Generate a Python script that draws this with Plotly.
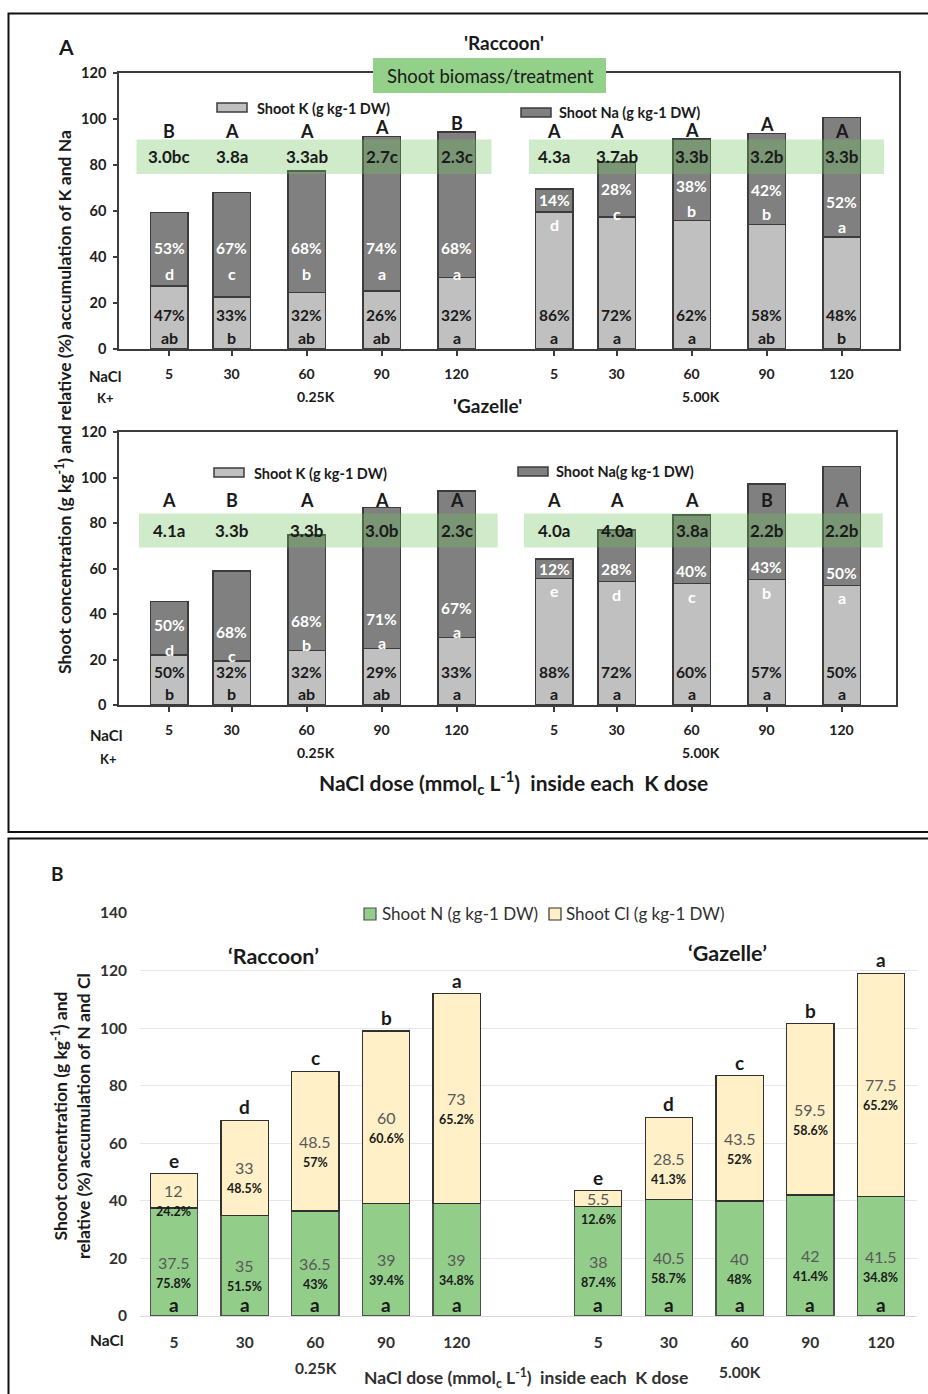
import plotly.graph_objects as go

W, H = 928, 1394
FONT = "Lato"
TXT = "#1a1a1a"
EDGE = "#3c3c3c"
K_COL = "#c0c0c0"
NA_COL = "#808080"
N_COL = "#93cd8a"
CL_COL = "#fff0c8"
BAND = "rgba(110,195,95,0.33)"
BOX = "#93d089"

# ---------------- data ----------------
nacl = [5, 30, 60, 90, 120]
nacl_labels = ["5", "30", "60", "90", "120"]
k_doses = ["0.25K", "5.00K"]

# Panel A - 'Raccoon' (first 5 = 0.25K, last 5 = 5.00K)
rac_k = [27.5, 22.7, 24.5, 25.2, 31.0, 59.6, 57.5, 55.8, 54.2, 48.7]
rac_na = [31.8, 45.3, 52.9, 67.3, 63.3, 10.0, 23.8, 35.4, 39.6, 52.0]
rac_k_pct = ["47%", "33%", "32%", "26%", "32%", "86%", "72%", "62%", "58%", "48%"]
rac_k_let = ["ab", "b", "ab", "ab", "a", "a", "a", "a", "ab", "b"]
rac_na_pct = ["53%", "67%", "68%", "74%", "68%", "14%", "28%", "38%", "42%", "52%"]
rac_na_let = ["d", "c", "b", "a", "a", "d", "c", "b", "b", "a"]
rac_top_let = ["B", "A", "A", "A", "B", "A", "A", "A", "A", "A"]
rac_biomass = ["3.0bc", "3.8a", "3.3ab", "2.7c", "2.3c", "4.3a", "3.7ab", "3.3b", "3.2b", "3.3b"]

# Panel A - 'Gazelle'
gaz_k = [22.0, 19.3, 23.9, 24.9, 29.6, 55.7, 54.2, 53.3, 55.1, 52.6]
gaz_na = [23.6, 39.5, 50.8, 62.0, 64.4, 8.5, 22.7, 30.2, 42.0, 52.2]
gaz_k_pct = ["50%", "32%", "32%", "29%", "33%", "88%", "72%", "60%", "57%", "50%"]
gaz_k_let = ["b", "b", "ab", "ab", "a", "a", "a", "a", "a", "a"]
gaz_na_pct = ["50%", "68%", "68%", "71%", "67%", "12%", "28%", "40%", "43%", "50%"]
gaz_na_let = ["d", "c", "b", "a", "a", "e", "d", "c", "b", "a"]
gaz_top_let = ["A", "B", "A", "A", "A", "A", "A", "A", "B", "A"]
gaz_biomass = ["4.1a", "3.3b", "3.3b", "3.0b", "2.3c", "4.0a", "4.0a", "3.8a", "2.2b", "2.2b"]

# Panel B - first 5 'Raccoon' (0.25K), last 5 'Gazelle' (5.00K)
b_n = [37.5, 35, 36.5, 39, 39, 38, 40.5, 40, 42, 41.5]
b_cl = [12, 33, 48.5, 60, 73, 5.5, 28.5, 43.5, 59.5, 77.5]
b_n_pct = ["75.8%", "51.5%", "43%", "39.4%", "34.8%", "87.4%", "58.7%", "48%", "41.4%", "34.8%"]
b_cl_pct = ["24.2%", "48.5%", "57%", "60.6%", "65.2%", "12.6%", "41.3%", "52%", "58.6%", "65.2%"]
b_n_let = ["a"] * 10
b_top_let = ["e", "d", "c", "b", "a", "e", "d", "c", "b", "a"]

# ---------------- helpers ----------------
def fx(x):
    return x / W


def fy(y):
    return 1 - y / H


GROUP_OFFSET = 154  # horizontal offset of the 5.00K group on the NaCl scale
xa = nacl + [d + GROUP_OFFSET for d in nacl]
xb = [i + (1 if i >= 5 else 0) for i in range(10)]

fig = go.Figure()
ann_list = []
shapes = []


def font(size, bold=False, color=TXT):
    return dict(family=FONT, size=size, color=color, weight="bold" if bold else "normal")


def pann(text, x, y, size, bold=False, color=TXT, xanchor="center", yanchor="middle", angle=0):
    ann_list.append(dict(text=text, x=fx(x), y=fy(y), xref="paper", yref="paper",
                         showarrow=False, font=font(size, bold, color),
                         xanchor=xanchor, yanchor=yanchor, textangle=angle))


def dann(text, x, y, s, size, bold=True, color=TXT, yanchor="middle", yshift=0):
    ann_list.append(dict(text=text, x=x, y=y, xref="x" + s, yref="y" + s,
                         showarrow=False, font=font(size, bold, color),
                         yanchor=yanchor, yshift=yshift))


def panel_a(s, k, na, k_pct, k_let, na_pct, na_let, top_let, bio,
            na_pct_y, na_let_y, top_y, k_pct_y, k_let_y, band, bio_y):
    fig.add_trace(go.Bar(x=xa, y=k, xaxis="x" + s, yaxis="y" + s, width=15,
                         marker=dict(color=K_COL, line=dict(color=EDGE, width=1.5)),
                         showlegend=False, name="Shoot K"))
    fig.add_trace(go.Bar(x=xa, y=na, xaxis="x" + s, yaxis="y" + s, width=15,
                         marker=dict(color=NA_COL, line=dict(color=EDGE, width=1.5)),
                         showlegend=False, name="Shoot Na"))
    for i in range(10):
        x = xa[i]
        dann(k_pct[i], x, k_pct_y, s, 15.5, True, TXT)
        dann(k_let[i], x, k_let_y, s, 16, True, TXT)
        dann(na_pct[i], x, na_pct_y[i], s, 15.5, True, "white")
        dann(na_let[i], x, na_let_y[i], s, 16, True, "white")
        dann(top_let[i], x, top_y[i], s, 18, True, TXT)
        dann(bio[i], x, bio_y, s, 17, True, TXT)
    for (x0, x1) in band:
        shapes.append(dict(type="rect", xref="x" + s, yref="y" + s, x0=x0, x1=x1,
                           y0=bio_y - 7.5, y1=bio_y + 7.5, fillcolor=BAND, line=dict(width=0),
                           layer="above"))


# Raccoon label placement rules
rac_tot = [a + b for a, b in zip(rac_k, rac_na)]
rac_na_pct_y = [44] * 5 + [k + min(n / 2, 15) for k, n in zip(rac_k[5:], rac_na[5:])]
rac_na_let_y = [33] * 5 + [y - 10.5 for y in rac_na_pct_y[5:]]
rac_top_y = [95 if t > 97 else max(95, t + 4) for t in rac_tot]

panel_a("", rac_k, rac_na, rac_k_pct, rac_k_let, rac_na_pct, rac_na_let, rac_top_let, rac_biomass,
        rac_na_pct_y, rac_na_let_y, rac_top_y, 15, 5,
        [(xa[0] - 13, xa[4] + 14), (xa[5] - 10, xa[9] + 17)], 83.6)

# Gazelle label placement rules
gaz_na_pct_y = [k + 13 for k in gaz_k[:5]] + [k + min(n / 2, 5.5) for k, n in zip(gaz_k[5:], gaz_na[5:])]
gaz_na_let_y = [y - 10.5 for y in gaz_na_pct_y[:5]] + [k - 5.5 for k in gaz_k[5:]]
gaz_top_y = [90] * 10

panel_a("2", gaz_k, gaz_na, gaz_k_pct, gaz_k_let, gaz_na_pct, gaz_na_let, gaz_top_let, gaz_biomass,
        gaz_na_pct_y, gaz_na_let_y, gaz_top_y, 14.5, 5,
        [(xa[0] - 12, xa[4] + 16.5), (xa[5] - 12, xa[9] + 16.5)], 76.7)

# Panel B
fig.add_trace(go.Bar(x=xb, y=b_n, xaxis="x3", yaxis="y3", width=0.67,
                     marker=dict(color=N_COL, line=dict(color="#505050", width=1.3)),
                     showlegend=False, name="Shoot N (g kg-1 DW)"))
fig.add_trace(go.Bar(x=xb, y=b_cl, xaxis="x3", yaxis="y3", width=0.67,
                     marker=dict(color=CL_COL, line=dict(color="#303030", width=1.3)),
                     showlegend=False, name="Shoot Cl (g kg-1 DW)"))
for i in range(10):
    x = xb[i]
    n, c = b_n[i], b_cl[i]
    dann(str(c), x, n + c / 2, "3", 16, False, "#595959")
    dann(b_cl_pct[i], x, n + c / 2, "3", 12.5, True, TXT, yshift=-21)
    dann(str(n), x, n / 2, "3", 16, False, "#595959")
    dann(b_n_pct[i], x, n / 2, "3", 12.5, True, TXT, yshift=-21)
    dann(b_n_let[i], x, 0, "3", 19, True, TXT, yanchor="bottom", yshift=-2)
    dann(b_top_let[i], x, n + c, "3", 19, True, TXT, yanchor="bottom", yshift=0)

# ---------------- axes ----------------
axA = dict(showline=True, linecolor=EDGE, linewidth=1.5, mirror=True, showgrid=False,
           zeroline=False, ticks="outside", ticklen=5, tickcolor=EDGE, tickwidth=1.5,
           tickvals=xa, ticktext=nacl_labels + nacl_labels, tickfont=font(14, True, "#202020"),
           ticklabelstandoff=6, automargin=False)
ayA = dict(showline=True, linecolor=EDGE, linewidth=1.5, mirror=True, showgrid=False,
           zeroline=False, ticks="outside", ticklen=4, tickcolor=EDGE, tickwidth=1.5,
           range=[0, 120], dtick=20, tickfont=font(14.5, True, "#202020"), ticklabelstandoff=4,
           automargin=False)

fig.update_layout(
    width=W, height=H, margin=dict(l=0, r=0, t=0, b=0, pad=0, autoexpand=False),
    paper_bgcolor="white", plot_bgcolor="white", barmode="stack",
    font=dict(family=FONT, color=TXT),
    xaxis=dict(axA, domain=[fx(119), fx(899)], range=[-15, 297], anchor="y"),
    yaxis=dict(ayA, domain=[fy(349), fy(73)], anchor="x"),
    xaxis2=dict(axA, domain=[fx(119), fx(896)], range=[-15, 295.8], anchor="y2"),
    yaxis2=dict(ayA, domain=[fy(705), fy(432)], anchor="x2"),
    xaxis3=dict(domain=[fx(140), fx(917)], range=[-0.48, 10.51], anchor="y3",
                tickvals=xb, ticktext=nacl_labels + nacl_labels, showgrid=False, zeroline=False,
                showline=True, linecolor="#d9d9d9", linewidth=1, ticks="",
                tickfont=font(15.5, True, "#303030"), ticklabelstandoff=12, automargin=False),
    yaxis3=dict(domain=[fy(1316), fy(913)], range=[0, 140], dtick=20, anchor="x3",
                showgrid=True, gridcolor="#e6e6e6", gridwidth=1, zeroline=False, showline=False,
                tickfont=font(15.5, True, "#303030"), ticklabelstandoff=12, automargin=False),
)

# ---------------- frames & boxes ----------------
shapes.append(dict(type="rect", xref="paper", yref="paper", x0=fx(8.5), x1=fx(945), y0=fy(832), y1=fy(13.5),
                   line=dict(color="#111", width=2), fillcolor="rgba(0,0,0,0)", layer="below"))
shapes.append(dict(type="rect", xref="paper", yref="paper", x0=fx(8.5), x1=fx(945), y0=fy(1410), y1=fy(838.5),
                   line=dict(color="#111", width=2), fillcolor="rgba(0,0,0,0)", layer="below"))
shapes.append(dict(type="rect", xref="paper", yref="paper", x0=fx(373), x1=fx(606), y0=fy(93), y1=fy(58),
                   fillcolor=BOX, line=dict(width=0), layer="above"))

# Legend swatches for panel A
for (x0, y0, col) in [(217, 103, K_COL), (521, 108, NA_COL), (214, 468, K_COL), (518, 467, NA_COL)]:
    shapes.append(dict(type="rect", xref="paper", yref="paper", x0=fx(x0), x1=fx(x0 + 30),
                       y0=fy(y0 + 9), y1=fy(y0), fillcolor=col, line=dict(color=EDGE, width=1.5)))
# Legend swatches for panel B
for (x0, col, lc) in [(364, N_COL, "#505050"), (549, CL_COL, "#303030")]:
    shapes.append(dict(type="rect", xref="paper", yref="paper", x0=fx(x0), x1=fx(x0 + 12),
                       y0=fy(920), y1=fy(908), fillcolor=col, line=dict(color=lc, width=1.2)))

# ---------------- texts ----------------
pann("A", 66, 47, 21, True)
pann("'Raccoon'", 504, 42, 19, True)
pann("Shoot biomass/treatment", 490, 76, 18.5, False, "#1a1a1a")
pann("Shoot K (g kg-1 DW)", 255, 108, 14.5, True, xanchor="left")
pann("Shoot Na (g kg-1 DW)", 557, 113, 14.5, True, xanchor="left")
pann("NaCl", 105, 376, 15, True)
pann("K+", 105, 398, 13, True)
pann(k_doses[0], 316, 396, 14, True)
pann(k_doses[1], 701, 396, 14, True)
pann("'Gazelle'", 487, 405, 19, True)
pann("Shoot K (g kg-1 DW)", 252, 473, 14.5, True, xanchor="left")
pann("Shoot Na(g kg-1 DW)", 554, 471, 14.5, True, xanchor="left")
pann("NaCl", 106, 735, 15, True)
pann("K+", 108, 759, 13, True)
pann(k_doses[0], 316, 752, 14, True)
pann(k_doses[1], 701, 752, 14, True)
pann("NaCl dose (mmol<sub>c</sub> L<sup>-1</sup>)\u00a0 inside each\u00a0 K dose", 513, 783, 21, True)
pann("Shoot concentration (g kg<sup>-1</sup>) and relative (%) accumulation of K and Na",
     64, 402, 17.5, True, angle=-90)

pann("B", 57, 873, 19, True)
pann("Shoot N (g kg-1 DW)", 380, 913, 17, False, "#303030", xanchor="left")
pann("Shoot Cl (g kg-1 DW)", 564, 913, 17, False, "#303030", xanchor="left")
pann("\u2018Raccoon\u2019", 273, 956, 21.5, True)
pann("\u2018Gazelle\u2019", 727, 953, 21.5, True)
pann("NaCl", 107, 1340, 15.5, True)
pann(k_doses[0], 316, 1368, 15.5, True, "#303030")
pann(k_doses[1], 740, 1372, 15.5, True, "#303030")
pann("NaCl dose (mmol<sub>c</sub> L<sup>-1</sup>)\u00a0 inside each\u00a0 K dose", 526, 1378, 17.5, True, "#303030")
pann("Shoot concentration (g kg<sup>-1</sup>) and<br>relative (%) accumulation of N and Cl",
     71, 1116, 17.5, True, angle=-90)

fig.update_layout(annotations=ann_list, shapes=shapes)
fig.write_html("out.html", config={"displayModeBar": False},
               post_script="document.body.style.margin='0';document.body.style.overflow='hidden';")
